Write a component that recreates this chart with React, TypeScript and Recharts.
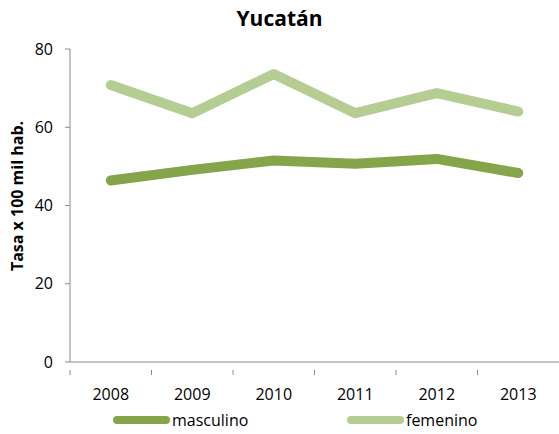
import { Legend, Line, LineChart, XAxis, YAxis } from "recharts";

const YEARS = ["2008", "2009", "2010", "2011", "2012", "2013"];
const MASCULINO = [46.4, 49.1, 51.5, 50.7, 51.9, 48.3];
const FEMENINO = [70.8, 63.6, 73.6, 63.6, 68.7, 64.0];
const Y_TICKS = [0, 20, 40, 60, 80];

const SERIES = [
  { key: "masculino", label: "masculino", color: "#86A44A" },
  { key: "femenino", label: "femenino", color: "#B5CC93" },
];

const FONT = "'Open Sans', sans-serif";
const AXIS_COLOR = "#8C8C8C";

const data = YEARS.map((year, i) => ({
  year,
  masculino: MASCULINO[i],
  femenino: FEMENINO[i],
}));

// Excel-style category axis: ticks sit on band boundaries, labels in the middle
function YearTick(props: any) {
  const { x, y, payload } = props;
  const offset = payload.offset ?? 0;
  return (
    <g>
      <line x1={x - offset} x2={x - offset} y1={y} y2={y + 5} stroke={AXIS_COLOR} />
      <text
        x={x}
        y={y + 30}
        textAnchor="middle"
        fontFamily={FONT}
        fontSize={16}
        fill="#000"
      >
        {payload.value}
      </text>
    </g>
  );
}

function LegendContent() {
  const positions = [113, 347];
  return (
    <div style={{ position: "relative", height: 24, fontFamily: FONT, fontSize: 16 }}>
      {SERIES.map((s, i) => (
        <div
          key={s.key}
          style={{
            position: "absolute",
            left: positions[i],
            top: 0,
            display: "flex",
            alignItems: "center",
            height: 24,
          }}
        >
          <span
            style={{
              display: "inline-block",
              width: 57,
              height: 8,
              borderRadius: 4,
              background: s.color,
              marginRight: 2,
            }}
          />
          <span>{s.label}</span>
        </div>
      ))}
    </div>
  );
}

export default function App() {
  return (
    <div
      style={{
        position: "absolute",
        left: 0,
        top: 0,
        width: 559,
        height: 434,
        background: "#fff",
        fontFamily: FONT,
      }}
    >
      <div
        style={{
          position: "absolute",
          top: 4,
          left: 0,
          width: 559,
          textAlign: "center",
          fontWeight: 700,
          fontSize: 21,
        }}
      >
        Yucatán
      </div>
      <div
        style={{
          position: "absolute",
          left: 17,
          top: 196,
          transform: "translate(-50%, -50%) rotate(-90deg)",
          whiteSpace: "nowrap",
          fontWeight: 700,
          fontSize: 16,
        }}
      >
        Tasa x 100 mil hab.
      </div>
      <LineChart
        width={559}
        height={434}
        data={data}
        margin={{ top: 49, right: 0, bottom: 8, left: 0 }}
      >
        <XAxis
          dataKey="year"
          scale="band"
          stroke={AXIS_COLOR}
          tickLine={false}
          tick={<YearTick />}
          interval={0}
          height={40}
        />
        <YAxis
          domain={[0, 80]}
          ticks={Y_TICKS}
          width={70}
          stroke={AXIS_COLOR}
          tickSize={5}
          tickMargin={12}
          tick={{ fill: "#000", fontSize: 16, fontFamily: FONT }}
        />
        <Legend
          content={<LegendContent />}
          verticalAlign="bottom"
          wrapperStyle={{ left: 0, width: 559, bottom: 2 }}
        />
        {SERIES.map((s) => (
          <Line
            key={s.key}
            type="linear"
            dataKey={s.key}
            stroke={s.color}
            strokeWidth={10}
            strokeLinecap="round"
            strokeLinejoin="round"
            dot={false}
            activeDot={false}
            isAnimationActive={false}
          />
        ))}
      </LineChart>
    </div>
  );
}
